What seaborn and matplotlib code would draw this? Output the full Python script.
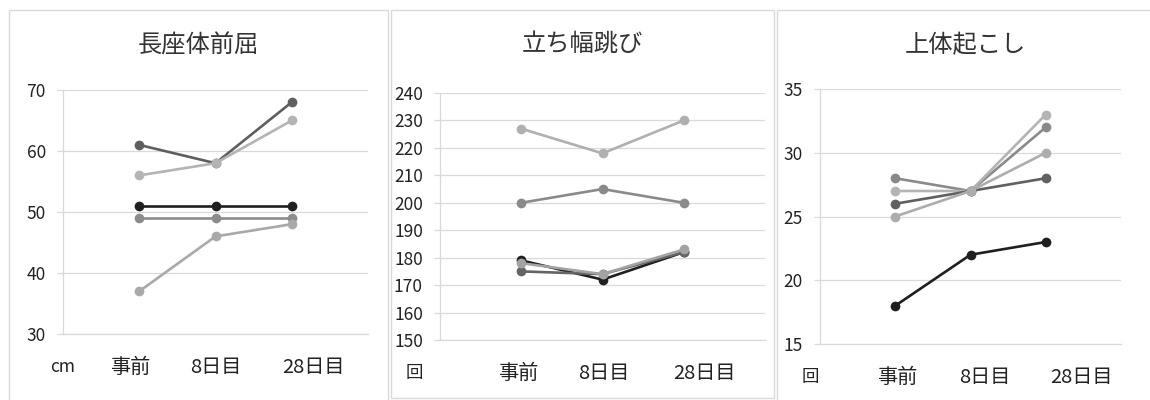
import numpy as np
import pandas as pd
import matplotlib
matplotlib.use("Agg")
import matplotlib.pyplot as plt
from matplotlib.patches import Rectangle
import matplotlib.transforms as mtransforms
import seaborn as sns

# ---- data ----
stages = ["事前", "8日目", "28日目"]

titles = ["長座体前屈", "立ち幅跳び", "上体起こし"]
units = ["cm", "回", "回"]

# 長座体前屈 (cm)
sit_reach_a = [61, 58, 68]
sit_reach_b = [56, 58, 65]
sit_reach_c = [51, 51, 51]
sit_reach_d = [49, 49, 49]
sit_reach_e = [37, 46, 48]

# 立ち幅跳び
jump_a = [227, 218, 230]
jump_b = [200, 205, 200]
jump_c = [179, 172, 182]
jump_d = [175, 174, 182]
jump_e = [178, 174, 183]

# 上体起こし (回)
situp_a = [28, 27, 32]
situp_b = [27, 27, 33]
situp_c = [26, 27, 28]
situp_d = [25, 27, 30]
situp_e = [18, 22, 23]

y_limits = [(30, 70), (150, 240), (15, 35)]
y_steps = [10, 10, 5]

panels = [
    [sit_reach_a, sit_reach_b, sit_reach_c, sit_reach_d, sit_reach_e],
    [jump_a, jump_b, jump_c, jump_d, jump_e],
    [situp_a, situp_b, situp_c, situp_d, situp_e],
]
panel_colors = [
    ["#5f5f5f", "#b4b4b4", "#1f1f1f", "#8c8c8c", "#a9a9a9"],
    ["#b0b0b0", "#8a8a8a", "#1f1f1f", "#646464", "#a3a3a3"],
    ["#8a8a8a", "#b4b4b4", "#606060", "#adadad", "#1f1f1f"],
]

# ---- layout (pixels in a 1150x400 figure) ----
W, H = 1150, 400
axes_px = [(63, 368, 90, 334), (440, 765, 93, 340), (820, 1121, 89, 344)]
boxes_px = [(9, 388, 10, 402), (391, 774, 10, 398), (777, 1153, 10, 402)]
label_x = [[0.0, 0.88, 2.0, 3.29], [-0.32, 0.96, 2.02, 3.25], [-0.13, 1.02, 2.19, 3.48]]

sns.set_theme(style="white")
plt.rcParams["font.family"] = ["Noto Sans CJK JP", "DejaVu Sans"]
text_color = "#222222"
title_color = "#333333"
grid_color = "#d9d9d9"

fig = plt.figure(figsize=(W / 100, H / 100), dpi=100)
fig.patch.set_facecolor("white")

for i in range(3):
    bx0, bx1, by0, by1 = boxes_px[i]
    fig.patches.append(Rectangle((bx0 / W, 1 - by1 / H), (bx1 - bx0) / W, (by1 - by0) / H,
                                 transform=fig.transFigure, fill=False,
                                 edgecolor="#d9d9d9", linewidth=1.0, zorder=0))
    fig.text((bx0 + bx1) / 2 / W, 1 - 45 / H, titles[i], ha="center", va="center",
             fontsize=17.5, color=title_color)

    x0, x1, y0, y1 = axes_px[i]
    ax = fig.add_axes([x0 / W, 1 - y1 / H, (x1 - x0) / W, (y1 - y0) / H])
    ax.set_facecolor("none")

    series = panels[i]
    names = [f"s{k}" for k in range(len(series))]
    df = pd.DataFrame({
        "x": np.tile(np.arange(1, len(stages) + 1), len(series)),
        "value": np.concatenate(series),
        "series": np.repeat(names, len(stages)),
    })
    sns.lineplot(data=df, x="x", y="value", hue="series", hue_order=names,
                 palette=panel_colors[i], marker="o", markersize=7,
                 markeredgewidth=0, linewidth=1.9, legend=False, ax=ax,
                 zorder=3)

    lo, hi = y_limits[i]
    ax.set_xlim(0, len(stages) + 1)
    ax.set_ylim(lo, hi)
    ax.set_yticks(np.arange(lo, hi + 0.1, y_steps[i]))
    ax.yaxis.grid(True, color=grid_color, linewidth=0.9)
    ax.set_axisbelow(True)
    ax.set_xticks([])
    ax.set_xlabel("")
    ax.set_ylabel("")
    for s in ["top", "right"]:
        ax.spines[s].set_visible(False)
    ax.spines["left"].set_color(grid_color)
    ax.spines["left"].set_linewidth(0.9)
    ax.spines["bottom"].set_color(grid_color)
    ax.spines["bottom"].set_linewidth(0.9)
    ax.tick_params(axis="y", length=4.3, width=0.9, color=grid_color,
                   pad=8, labelsize=12.5, labelcolor=text_color, left=True)

    trans = mtransforms.blended_transform_factory(ax.transData, ax.transAxes)
    labels = [units[i]] + stages
    off = -33 / (y1 - y0)
    for xv, lab in zip(label_x[i], labels):
        ax.text(xv, off, lab, transform=trans, ha="center", va="center",
                fontsize=14.5 if lab in stages else 12.5, color=text_color, clip_on=False)

fig.savefig("out.png", dpi=100, facecolor="white")
